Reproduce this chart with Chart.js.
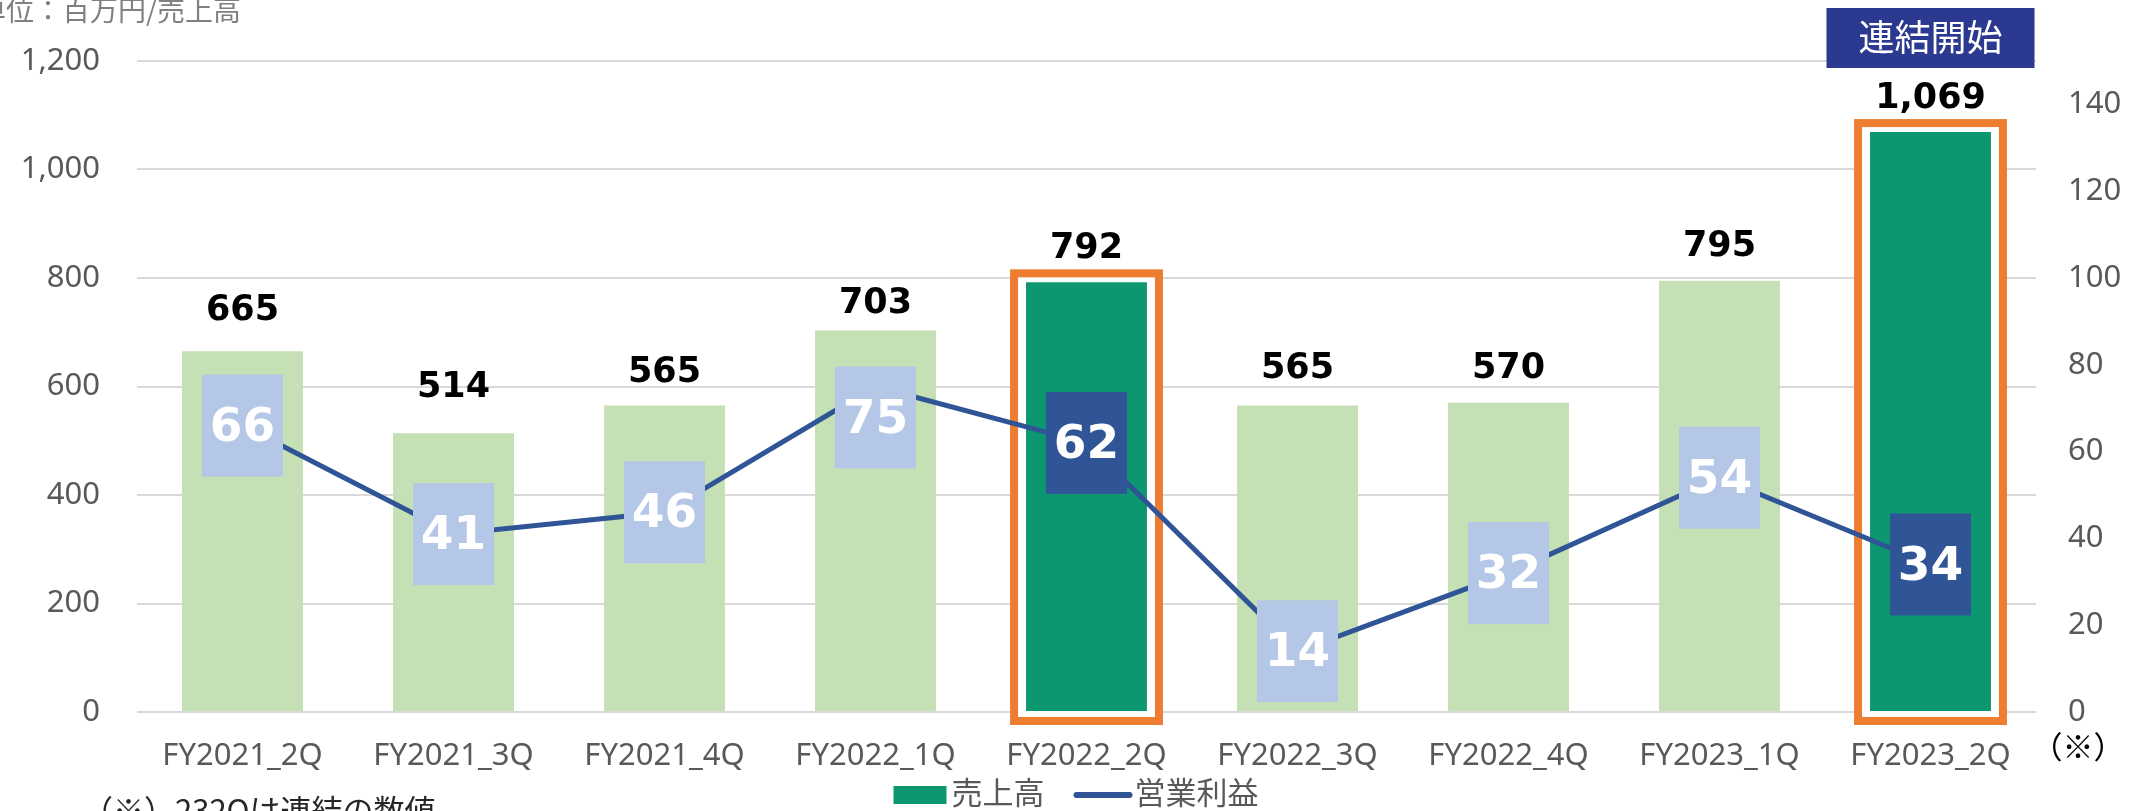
<!DOCTYPE html>
<html><head><meta charset="utf-8">
<style>html,body{margin:0;padding:0;background:#fff;overflow:hidden}
#wrap{width:2131px;height:811px;position:relative}</style>
<script src="https://cdn.jsdelivr.net/npm/chart.js@4.4.1/dist/chart.umd.min.js"></script>
</head><body><div id="wrap"><canvas id="c" width="2131" height="811"></canvas></div>
<script>
const categories = ['FY2021_2Q','FY2021_3Q','FY2021_4Q','FY2022_1Q','FY2022_2Q','FY2022_3Q','FY2022_4Q','FY2023_1Q','FY2023_2Q'];
const sales = [665, 514, 565, 703, 792, 565, 570, 795, 1069];
const operatingProfit = [66, 41, 46, 75, 62, 14, 32, 54, 34];
const highlightedQuarters = ['FY2022_2Q', 'FY2023_2Q'];
const consolidationStart = 'FY2023_2Q';
const leftTicks = [0, 200, 400, 600, 800, 1000, 1200];
const rightTicks = [0, 20, 40, 60, 80, 100, 120, 140];
const seriesNames = ['売上高', '営業利益'];
const unitLabel = '単位：百万円/売上高';
const consolidationLabel = '連結開始';
const footnote = '（※）232Qは連結の数値';
const footnoteMark = '（※）';

const C_LIGHT = '#C5E0B4', C_DARK = '#0C9771', C_LINE = '#2F5597',
      C_BOX_L = '#B4C7E7', C_BOX_D = '#2F5597', C_ORANGE = '#ED7D31', C_NAVY = '#2B3990';
const TICK_FONT = {family: "'Noto Sans', 'Noto Sans CJK JP', sans-serif", size: 31};
const CJK = "'Noto Sans CJK JP', 'Noto Sans', sans-serif";
const isHi = c => highlightedQuarters.includes(c);

// label placement (pixel gaps / nudges as placed in the original)
const BAR_LABEL_GAP = [44, 49, 36, 30, 37, 40, 37.5, 37.7, 37];
const BOX_NUDGE = [0, 0, 0, 31, 0, 0, 0, 0, 0];

const overlay = {
  id: 'overlay',
  beforeDatasetsDraw(chart) {
    const ctx = chart.ctx, meta = chart.getDatasetMeta(0), base = chart.scales.y.getPixelForValue(0);
    categories.forEach((c, i) => {
      if (!isHi(c)) return;
      const b = meta.data[i], half = b.width / 2;
      const x0 = b.x - half - 16, x1 = b.x + half + 16, y0 = b.y - 13, y1 = base + 13;
      ctx.save();
      ctx.fillStyle = '#fff'; ctx.fillRect(x0, y0, x1 - x0, y1 - y0);
      ctx.strokeStyle = C_ORANGE; ctx.lineWidth = 8;
      ctx.strokeRect(x0 + 4, y0 + 4, x1 - x0 - 8, y1 - y0 - 8);
      ctx.restore();
    });
  },
  afterDatasetsDraw(chart) {
    const ctx = chart.ctx, m0 = chart.getDatasetMeta(0), m1 = chart.getDatasetMeta(1);
    ctx.save();
    ctx.textAlign = 'center'; ctx.textBaseline = 'alphabetic';
    ctx.font = "bold 35px 'DejaVu Sans', sans-serif"; ctx.fillStyle = '#000';
    categories.forEach((c, i) => {
      const b = m0.data[i];
      ctx.fillText(sales[i].toLocaleString('en-US'), b.x, b.y - BAR_LABEL_GAP[i] + 0.729 * 35 / 2);
    });
    categories.forEach((c, i) => {
      const p = m1.data[i], cy = p.y + BOX_NUDGE[i];
      ctx.fillStyle = isHi(c) ? C_BOX_D : C_BOX_L;
      ctx.fillRect(p.x - 40.5, cy - 51, 81, 102);
      ctx.fillStyle = '#fff';
      ctx.font = "bold 47px 'DejaVu Sans', sans-serif";
      ctx.fillText(String(operatingProfit[i]), p.x, cy + 0.729 * 47 / 2 - 2);
    });
    const idx = categories.indexOf(consolidationStart);
    const cx = m0.data[idx].x;
    ctx.fillStyle = C_NAVY; ctx.fillRect(cx - 104, 8, 208, 60);
    ctx.fillStyle = '#fff'; ctx.font = '36px ' + CJK; ctx.textBaseline = 'middle';
    ctx.fillText(consolidationLabel, cx, 37);
    ctx.restore();
  },
  afterDraw(chart) {
    const ctx = chart.ctx, ca = chart.chartArea;
    ctx.save();
    ctx.textAlign = 'left'; ctx.textBaseline = 'alphabetic';
    ctx.fillStyle = '#808080'; ctx.font = '28px ' + CJK;
    ctx.fillText(unitLabel, -22, 21);
    const lx = (ca.left + ca.right) / 2 - 193;
    ctx.fillStyle = C_DARK; ctx.fillRect(lx, 786, 53, 18);
    ctx.fillStyle = '#595959'; ctx.font = '31px ' + CJK;
    ctx.fillText(seriesNames[0], lx + 58, 804);
    ctx.strokeStyle = C_LINE; ctx.lineWidth = 6; ctx.lineCap = 'round';
    ctx.beginPath(); ctx.moveTo(lx + 183, 795); ctx.lineTo(lx + 236, 795); ctx.stroke();
    ctx.fillText(seriesNames[1], lx + 241, 804);
    ctx.fillStyle = '#262626';
    ctx.fillText(footnote, 82, 822);
    ctx.fillStyle = '#000'; ctx.textAlign = 'center'; ctx.textBaseline = 'middle';
    ctx.fillText(footnoteMark, 2078, 746);
    ctx.restore();
  }
};

new Chart(document.getElementById('c'), {
  data: {
    labels: categories,
    datasets: [
      { type: 'bar', label: seriesNames[0], data: sales, yAxisID: 'y', order: 2,
        backgroundColor: categories.map(c => isHi(c) ? C_DARK : C_LIGHT),
        categoryPercentage: 1, barPercentage: 0.573 },
      { type: 'line', label: seriesNames[1], data: operatingProfit, yAxisID: 'y2', order: 1,
        borderColor: C_LINE, borderWidth: 5, pointRadius: 0, tension: 0, fill: false }
    ]
  },
  options: {
    responsive: false, animation: false, devicePixelRatio: 1,
    layout: { padding: { top: 61, left: 0, right: 0, bottom: 0 } },
    plugins: { legend: { display: false }, tooltip: { enabled: false } },
    scales: {
      x: {
        grid: { display: false, drawTicks: false }, border: { display: false },
        ticks: { font: TICK_FONT, color: '#595959', padding: 26, maxRotation: 0, autoSkip: false },
        afterFit(s) { s.height = 99; }
      },
      y: {
        position: 'left', min: 0, max: 1200,
        afterBuildTicks(s) { s.ticks = leftTicks.map(v => ({ value: v })); },
        grid: { color: '#D9D9D9', lineWidth: 2, drawTicks: false }, border: { display: false },
        ticks: { font: TICK_FONT, color: '#595959', padding: 37, callback: v => v.toLocaleString('en-US') },
        afterFit(s) { s.width = 137; }
      },
      y2: {
        position: 'right', min: 0, max: 150,
        afterBuildTicks(s) { s.ticks = rightTicks.map(v => ({ value: v })); },
        grid: { display: false, drawTicks: false }, border: { display: false },
        ticks: { font: TICK_FONT, color: '#595959', padding: 32 },
        afterFit(s) { s.width = 95; }
      }
    }
  },
  plugins: [overlay]
});
</script></body></html>
